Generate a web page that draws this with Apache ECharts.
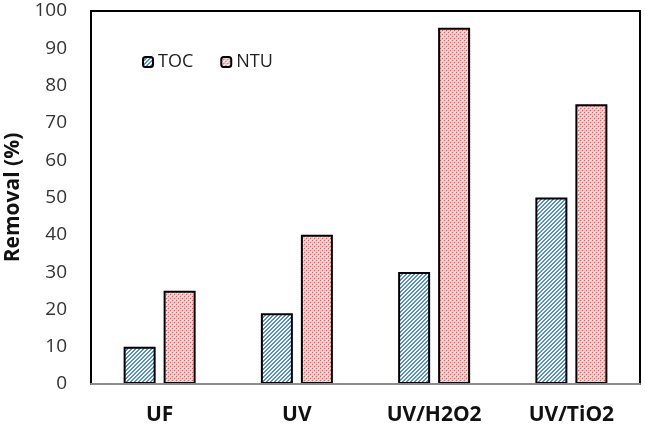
<!DOCTYPE html>
<html>
<head>
<meta charset="utf-8">
<script src="https://cdn.jsdelivr.net/npm/echarts@6/dist/echarts.min.js"></script>
<style>
  html, body { margin: 0; padding: 0; background: #fff; }
  #chart { width: 645px; height: 430px; }
</style>
</head>
<body>
<div id="chart"></div>
<script>
const categories = ["UF", "UV", "UV/H2O2", "UV/TiO2"];
const tocValues = [10, 19, 30, 50];
const ntuValues = [25, 40, 95.5, 75];
const seriesNames = ["TOC", "NTU"];

// blue diagonal stripes
function stripePattern() {
  const c = document.createElement("canvas");
  c.width = 4; c.height = 4;
  const ctx = c.getContext("2d");
  ctx.fillStyle = "#fff";
  ctx.fillRect(0, 0, 4, 4);
  ctx.fillStyle = "#4f8ddc";
  for (let i = 0; i < 4; i++) {
    ctx.fillRect(3 - i, i, 1, 1);
    ctx.fillRect((3 - i + 1) % 4, i, 1, 1);
  }
  return c;
}

// pink cross-hatch / checker
function checkPattern() {
  const c = document.createElement("canvas");
  c.width = 4; c.height = 4;
  const ctx = c.getContext("2d");
  ctx.fillStyle = "#f3c4c4";
  ctx.fillRect(0, 0, 4, 4);
  ctx.fillStyle = "#dc5e5e";
  ctx.fillRect(0, 0, 1, 1);
  ctx.fillRect(2, 2, 1, 1);
  ctx.fillStyle = "#fff";
  ctx.fillRect(1, 1, 1, 1);
  ctx.fillRect(3, 3, 1, 1);
  ctx.fillRect(2, 0, 1, 1);
  return c;
}

const chart = echarts.init(document.getElementById("chart"));
chart.setOption({
  backgroundColor: "#fff",
  animation: false,
  textStyle: { fontFamily: "Open Sans" },
  grid: {
    left: 91, right: 5, top: 11, bottom: 46,
    outerBoundsMode: "none",
    containLabel: false,
    show: true, borderColor: "#000", borderWidth: 2
  },
  legend: {
    data: seriesNames,
    left: 137, top: 48,
    itemWidth: 10, itemHeight: 10, itemGap: 27,
    textStyle: { fontSize: 18, color: "#222" }
  },
  xAxis: {
    type: "category",
    data: categories,
    z: 5,
    axisLine: { lineStyle: { color: "#8c8c8c", width: 2 } },
    axisTick: { show: false },
    axisLabel: { fontSize: 21, fontWeight: "bold", color: "#111", margin: 21 }
  },
  yAxis: {
    type: "value",
    min: 0, max: 100, interval: 10,
    name: "Removal (%)",
    nameLocation: "middle",
    nameRotate: 90,
    nameGap: 65,
    nameTextStyle: { fontSize: 21, fontWeight: "bold", color: "#111" },
    axisLine: { show: false },
    axisTick: { show: false },
    splitLine: { show: false },
    axisLabel: { fontSize: 19, color: "#333", margin: 24 }
  },
  series: [
    {
      name: "TOC", type: "bar", data: tocValues,
      barWidth: 32, barGap: "25%",
      itemStyle: { color: { image: stripePattern(), repeat: "repeat" }, borderColor: "#000", borderWidth: 2 }
    },
    {
      name: "NTU", type: "bar", data: ntuValues,
      barWidth: 32,
      itemStyle: { color: { image: checkPattern(), repeat: "repeat" }, borderColor: "#000", borderWidth: 2 }
    }
  ]
});
</script>
</body>
</html>
